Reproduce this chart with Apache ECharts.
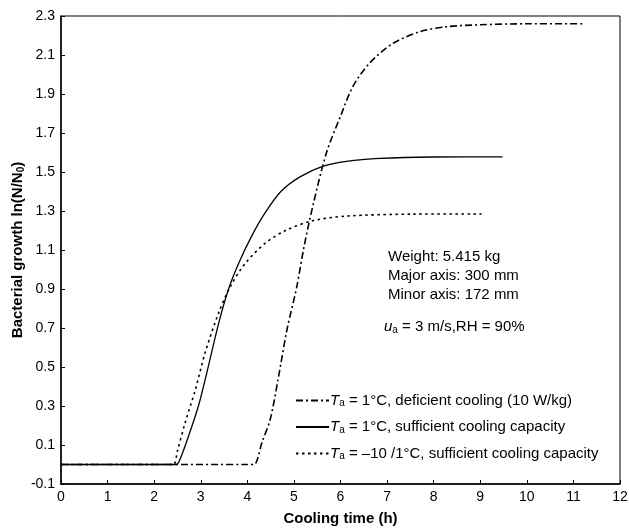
<!DOCTYPE html>
<html>
<head>
<meta charset="utf-8">
<script src="https://cdn.jsdelivr.net/npm/echarts@6/dist/echarts.min.js"></script>
<style>
html,body{margin:0;padding:0;background:#fff;}
#chart{width:629px;height:529px;}
</style>
</head>
<body>
<div id="chart"></div>
<script>
// ---- data ----
var xTicks = [0,1,2,3,4,5,6,7,8,9,10,11,12];
var yTicks = [-0.1,0.1,0.3,0.5,0.7,0.9,1.1,1.3,1.5,1.7,1.9,2.1,2.3];

var deficientX = [0, 2.0, 4.0, 4.15, 4.22, 4.31, 4.49, 4.67, 4.85, 5.06, 5.22, 5.42, 5.70, 5.99, 6.27, 6.63, 7.13, 7.71, 8.28, 9.0, 10.0, 11.25];
var deficientY = [0, 0, 0, 0, 0.03, 0.11, 0.23, 0.45, 0.69, 0.91, 1.12, 1.34, 1.60, 1.78, 1.94, 2.06, 2.16, 2.22, 2.245, 2.255, 2.26, 2.26];

var sufficientX = [0, 1.2, 2.35, 2.48, 2.56, 2.73, 2.95, 3.13, 3.38, 3.59, 3.81, 4.09, 4.38, 4.72, 5.13, 5.63, 6.13, 6.85, 8.0, 9.48];
var sufficientY = [0, 0, 0, 0, 0.03, 0.14, 0.30, 0.47, 0.72, 0.895, 1.03, 1.17, 1.29, 1.40, 1.475, 1.53, 1.555, 1.57, 1.577, 1.578];

var stepX = [0, 1.2, 2.3, 2.42, 2.5, 2.66, 2.88, 3.09, 3.38, 3.63, 3.95, 4.38, 4.82, 5.40, 6.13, 7.56, 9.03];
var stepY = [0, 0, 0, 0, 0.07, 0.21, 0.38, 0.57, 0.775, 0.91, 1.03, 1.134, 1.20, 1.25, 1.274, 1.284, 1.285];

var seriesNames = ['deficient', 'sufficient', 'step'];
var legendLabels = {
  deficient: '{i|T}{sub|a} = 1°C, deficient cooling (10 W/kg)',
  sufficient: '{i|T}{sub|a} = 1°C, sufficient cooling capacity',
  step: '{i|T}{sub|a} = –10 /1°C, sufficient cooling capacity'
};
var notes = ['Weight: 5.415 kg', 'Major axis: 300 mm', 'Minor axis: 172 mm'];
var flowNote = '{i|u}{sub|a} = 3 m/s,RH = 90%';

function pairs(xs, ys){ return xs.map(function(x,i){ return [x, ys[i]]; }); }

var FONT = 'Liberation Sans, Arial, sans-serif';
var chart = echarts.init(document.getElementById('chart'), null, {renderer:'canvas'});

var richBase = {
  i: {fontStyle:'italic', fontSize:15, fontFamily:FONT, color:'#000'},
  sub: {fontSize:10, fontFamily:FONT, color:'#000', verticalAlign:'bottom', padding:[6,0,0,0]}
};

var option = {
  backgroundColor:'#fff',
  animation:false,
  grid:{left:61, right:9, top:16, bottom:45, outerBoundsMode:'none', containLabel:false,
    show:true, borderColor:'#000', borderWidth:1, backgroundColor:'transparent'},
  xAxis:{
    type:'value', min:0, max:12, interval:1,
    name:'Cooling time (h)', nameLocation:'middle', nameGap:27, nameMoveOverlap:false,
    nameTextStyle:{fontFamily:FONT, fontSize:15, fontWeight:'bold', color:'#000'},
    axisLine:{show:true, onZero:false, lineStyle:{color:'#000', width:1.5}},
    axisTick:{show:true, inside:true, length:4, lineStyle:{color:'#000'}},
    axisLabel:{fontFamily:FONT, fontSize:14, color:'#000', margin:6,
      formatter:function(v){ return xTicks.indexOf(v) >= 0 ? String(v) : ''; }},
    splitLine:{show:false}
  },
  yAxis:{
    type:'value', min:-0.1, max:2.3, interval:0.2,
    name:'{t|Bacterial growth ln(N/N}{s|0}{t|)}', nameLocation:'middle', nameGap:35, nameRotate:90, nameMoveOverlap:false,
    nameTextStyle:{rich:{
      t:{fontFamily:FONT, fontSize:15, fontWeight:'bold', color:'#000'},
      s:{fontFamily:FONT, fontSize:10, fontWeight:'bold', color:'#000', verticalAlign:'bottom', padding:[6,0,0,0]}
    }},
    axisLine:{show:true, onZero:false, lineStyle:{color:'#000', width:1.5}},
    axisTick:{show:true, inside:true, length:4, lineStyle:{color:'#000'}},
    axisLabel:{fontFamily:FONT, fontSize:14, color:'#000', margin:6,
      formatter:function(v){ return v.toFixed(1); }},
    splitLine:{show:false}
  },
  legend:{
    orient:'vertical', left:290, top:388, itemGap:11, itemWidth:33, itemHeight:14,
    data:seriesNames,
    formatter:function(n){ return legendLabels[n]; },
    itemStyle:{color:'rgba(0,0,0,0)', borderWidth:0, borderColor:'rgba(0,0,0,0)'},
    textStyle:{fontFamily:FONT, fontSize:15, color:'#000', padding:[0,0,0,-4], rich:richBase},
    selectedMode:false
  },
  series:[
    {name:'deficient', type:'line', data:pairs(deficientX, deficientY), symbol:'none', smooth:0.3,
      lineStyle:{color:'#000', width:1.6, type:[7,3,2,3]}},
    {name:'sufficient', type:'line', data:pairs(sufficientX, sufficientY), symbol:'none', smooth:0.3,
      lineStyle:{color:'#000', width:1.3, type:'solid'}},
    {name:'step', type:'line', data:pairs(stepX, stepY), symbol:'none', smooth:0.3,
      lineStyle:{color:'#000', width:1.6, type:[2.5,3.5]}}
  ],
  graphic:[
    {type:'text', x:388, y:257, style:{text:notes[0], fontFamily:FONT, fontSize:15, fill:'#000', textAlign:'left', verticalAlign:'middle'}},
    {type:'text', x:388, y:276, style:{text:notes[1], fontFamily:FONT, fontSize:15, fill:'#000', textAlign:'left', verticalAlign:'middle'}},
    {type:'text', x:388, y:295, style:{text:notes[2], fontFamily:FONT, fontSize:15, fill:'#000', textAlign:'left', verticalAlign:'middle'}},
    {type:'text', x:384, y:327, style:{text:flowNote, fontFamily:FONT, fontSize:15, fill:'#000', textAlign:'left', verticalAlign:'middle', rich:richBase}}
  ]
};
chart.setOption(option);
</script>
</body>
</html>
